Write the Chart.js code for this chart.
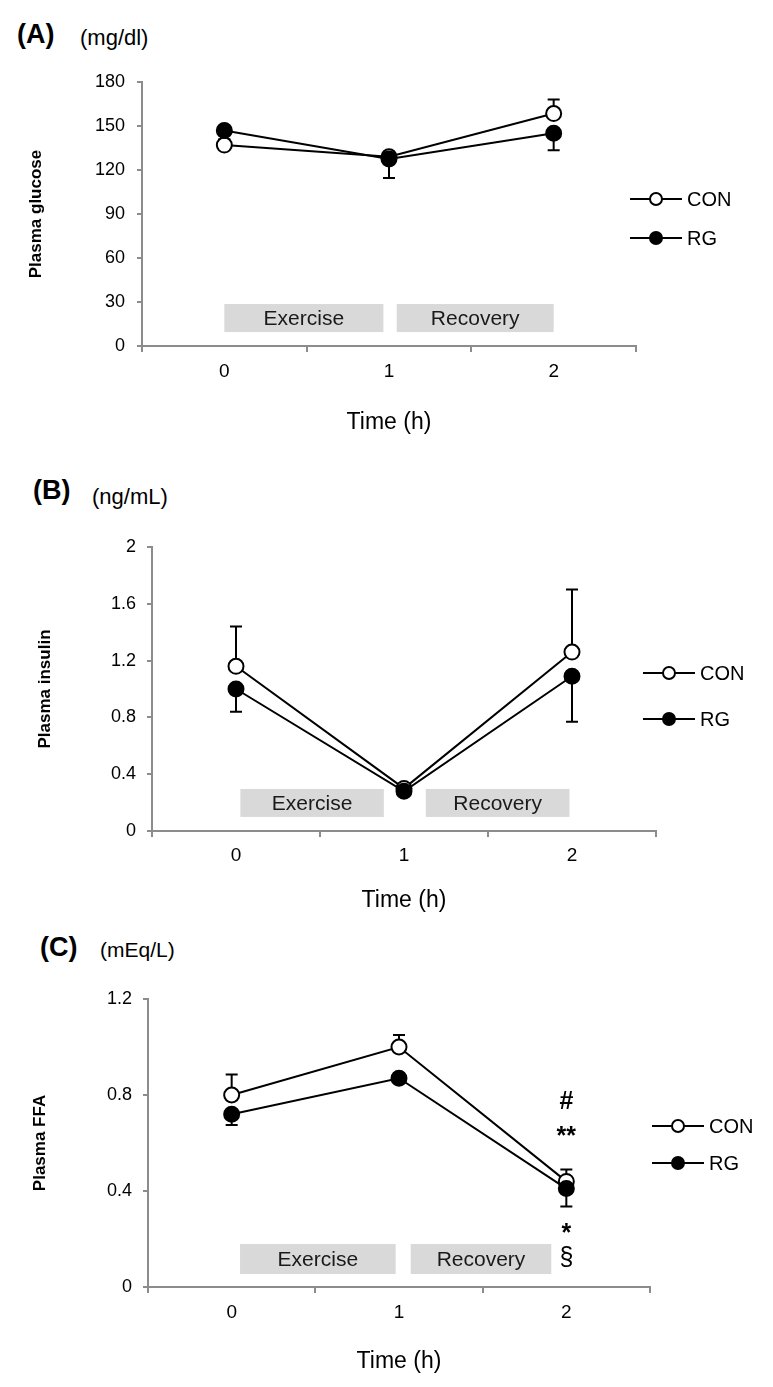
<!DOCTYPE html>
<html>
<head>
<meta charset="utf-8">
<script src="https://cdn.jsdelivr.net/npm/chart.js@4.4.0/dist/chart.umd.min.js"></script>
<style>
  body { margin: 0; background: #fff; width: 773px; height: 1387px; position: relative; overflow: hidden;
         font-family: "Liberation Sans", Arial, sans-serif; color: #000; }
  canvas { position: absolute; left: 0; }
  .tag { position: absolute; font-weight: bold; font-size: 27px; line-height: 1; }
  .unit { position: absolute; font-size: 22px; line-height: 1; }
</style>
</head>
<body>
<div class="tag" style="left:17px;top:21px">(A)</div>
<div class="unit" style="left:80px;top:27px">(mg/dl)</div>
<div class="tag" style="left:33px;top:477px">(B)</div>
<div class="unit" style="left:92px;top:486px">(ng/mL)</div>
<div class="tag" style="left:40px;top:934px">(C)</div>
<div class="unit" style="left:100px;top:939px;font-size:21px">(mEq/L)</div>

<canvas id="chartA" width="773" height="460" style="top:0px"></canvas>
<canvas id="chartB" width="773" height="460" style="top:460px"></canvas>
<canvas id="chartC" width="773" height="467" style="top:920px"></canvas>

<script>
// data
const timeLabels = ['0', '1', '2'];
const phaseLabels = ['Exercise', 'Recovery'];

const glucoseCon = [137, 129, 158.5];
const glucoseConErr = [4, 3.5, 9.5];
const glucoseRg = [147, 127.5, 145];
const glucoseRgErr = [3, 13, 11.5];
const glucoseTicks = [0, 30, 60, 90, 120, 150, 180];

const insulinCon = [1.16, 0.30, 1.26];
const insulinConErr = [0.28, 0.02, 0.44];
const insulinRg = [1.00, 0.28, 1.09];
const insulinRgErr = [0.16, 0.02, 0.32];
const insulinTicks = [0, 0.4, 0.8, 1.2, 1.6, 2];

const ffaCon = [0.80, 1.00, 0.44];
const ffaConErr = [0.085, 0.05, 0.05];
const ffaRg = [0.72, 0.87, 0.41];
const ffaRgErr = [0.045, 0.01, 0.075];
const ffaTicks = [0, 0.4, 0.8, 1.2];
const ffaMarks = ['#', '**', '*', '§'];
const ffaMarkLevels = [0.78, 0.66, 0.255, 0.12];

const FONT = '"Liberation Sans", Arial, sans-serif';
const AXIS_GRAY = '#8c8c8c';

// boxes, error bars, legend and significance marks
function makeDecor(p) {
    return {
        id: 'decor',
        beforeDatasetsDraw(chart) {
            const ctx = chart.ctx;
            const x = chart.scales.x, y = chart.scales.y;
            ctx.save();
            p.boxes.forEach(function(b, i) {
                const x0 = x.getPixelForValue(b[0]), x1 = x.getPixelForValue(b[1]);
                const y0 = y.getPixelForValue(p.boxRange[1]), y1 = y.getPixelForValue(p.boxRange[0]);
                ctx.fillStyle = '#d9d9d9';
                ctx.fillRect(x0, y0, x1 - x0, y1 - y0);
                ctx.fillStyle = '#1a1a1a';
                ctx.font = '21px ' + FONT;
                ctx.textAlign = 'center';
                ctx.textBaseline = 'middle';
                ctx.fillText(phaseLabels[i], (x0 + x1) / 2, (y0 + y1) / 2 + 1);
            });
            // error bars (CON upward, RG downward)
            ctx.strokeStyle = '#000';
            ctx.lineWidth = 2;
            chart.data.datasets.forEach(function(ds, di) {
                const meta = chart.getDatasetMeta(di);
                meta.data.forEach(function(pt, i) {
                    const yEnd = y.getPixelForValue(ds.data[i] + ds.errDir * ds.err[i]);
                    ctx.beginPath();
                    ctx.moveTo(pt.x, pt.y);
                    ctx.lineTo(pt.x, yEnd);
                    ctx.moveTo(pt.x - 6, yEnd);
                    ctx.lineTo(pt.x + 6, yEnd);
                    ctx.stroke();
                });
            });
            ctx.restore();
        },
        afterDatasetsDraw(chart) {
            const ctx = chart.ctx;
            const x = chart.scales.x, y = chart.scales.y;
            ctx.save();
            // legend
            chart.data.datasets.forEach(function(ds, i) {
                const lx = p.legend.x, ly = p.legend.y + i * p.legend.dy;
                ctx.strokeStyle = '#000';
                ctx.lineWidth = 2;
                ctx.beginPath();
                ctx.moveTo(lx, ly);
                ctx.lineTo(lx + 52, ly);
                ctx.stroke();
                ctx.beginPath();
                ctx.arc(lx + 26, ly, 6, 0, Math.PI * 2);
                ctx.fillStyle = ds.pointBackgroundColor;
                ctx.fill();
                ctx.stroke();
                ctx.fillStyle = '#000';
                ctx.font = '20px ' + FONT;
                ctx.textAlign = 'left';
                ctx.textBaseline = 'middle';
                ctx.fillText(ds.label, lx + 57, ly + 1);
            });
            // significance marks
            if (p.marks) {
                const mx = x.getPixelForValue(2);
                p.marks.forEach(function(m, i) {
                    const size = 25;
                    ctx.font = (m === '§' ? '' : 'bold ') + size + 'px ' + FONT;
                    ctx.textAlign = 'center';
                    ctx.textBaseline = 'alphabetic';
                    const shift = m.charAt(0) === '*' ? 0.62 : (m === '§' ? 0.28 : 0.36);
                    ctx.fillStyle = '#000';
                    ctx.fillText(m, mx, y.getPixelForValue(p.markLevels[i]) + size * shift);
                });
            }
            ctx.restore();
        }
    };
}

function makePanel(id, p) {
    new Chart(document.getElementById(id), {
        type: 'line',
        data: {
            labels: timeLabels,
            datasets: [
                {
                    label: 'CON', data: p.con, err: p.conErr, errDir: 1, order: 2,
                    borderColor: '#000', borderWidth: 2, tension: 0,
                    pointRadius: 7.5, pointBorderWidth: 2,
                    pointBackgroundColor: '#fff', pointBorderColor: '#000'
                },
                {
                    label: 'RG', data: p.rg, err: p.rgErr, errDir: -1, order: 1,
                    borderColor: '#000', borderWidth: 2, tension: 0,
                    pointRadius: 7.5, pointBorderWidth: 2,
                    pointBackgroundColor: '#000', pointBorderColor: '#000'
                }
            ]
        },
        options: {
            responsive: false,
            animation: false,
            events: [],
            layout: { padding: { top: p.padTop, right: p.padRight, left: 0, bottom: 0 } },
            plugins: { legend: { display: false }, tooltip: { enabled: false } },
            scales: {
                x: {
                    type: 'category',
                    offset: true,
                    grid: { display: true, drawOnChartArea: false, offset: true, tickLength: 6, color: AXIS_GRAY, lineWidth: 2 },
                    border: { color: AXIS_GRAY, width: 2 },
                    ticks: { color: '#000', font: { family: FONT, size: 19 }, padding: p.xTickPad, maxRotation: 0 },
                    title: {
                        display: true, text: 'Time (h)', color: '#000',
                        font: { family: FONT, size: 23 }, padding: { top: 0, bottom: p.xTitlePad }
                    },
                    afterFit: function(s) { s.height = p.xHeight; }
                },
                y: {
                    min: p.ticks[0],
                    max: p.ticks[p.ticks.length - 1],
                    afterBuildTicks: function(s) { s.ticks = p.ticks.map(function(v) { return { value: v }; }); },
                    grid: { display: true, drawOnChartArea: false, tickLength: 5, color: AXIS_GRAY, lineWidth: 2 },
                    border: { color: AXIS_GRAY, width: 2 },
                    ticks: { color: '#000', font: { family: FONT, size: 18 }, padding: p.yTickPad,
                             callback: function(v) { return String(v); } },
                    title: {
                        display: true, text: p.yTitle, color: '#000',
                        font: { family: FONT, size: 17, weight: 'bold' }, padding: { top: p.yTitlePad, bottom: 0 }
                    },
                    afterFit: function(s) { s.width = p.yWidth; }
                }
            }
        },
        plugins: [makeDecor(p)]
    });
}

makePanel('chartA', {
    con: glucoseCon, conErr: glucoseConErr, rg: glucoseRg, rgErr: glucoseRgErr, ticks: glucoseTicks,
    yTitle: 'Plasma glucose',
    padTop: 82, padRight: 137, yWidth: 142, xHeight: 114,
    xTickPad: 8, xTitlePad: 24, yTickPad: 12, yTitlePad: 26,
    boxes: [[0.0, 0.966], [1.047, 2.0]], boxRange: [9.5, 28.6],
    legend: { x: 630, y: 199, dy: 39 }
});

makePanel('chartB', {
    con: insulinCon, conErr: insulinConErr, rg: insulinRg, rgErr: insulinRgErr, ticks: insulinTicks,
    yTitle: 'Plasma insulin',
    padTop: 87, padRight: 117, yWidth: 152, xHeight: 89,
    xTickPad: 7, xTitlePad: 6, yTickPad: 11, yTitlePad: 35,
    boxes: [[0.026, 0.88], [1.13, 1.985]], boxRange: [0.099, 0.296],
    legend: { x: 643, y: 213, dy: 46 }
});

makePanel('chartC', {
    con: ffaCon, conErr: ffaConErr, rg: ffaRg, rgErr: ffaRgErr, ticks: ffaTicks,
    yTitle: 'Plasma FFA',
    padTop: 79, padRight: 123, yWidth: 148, xHeight: 100,
    xTickPad: 8, xTitlePad: 12, yTickPad: 11, yTitlePad: 30,
    boxes: [[0.05, 0.98], [1.07, 1.91]], boxRange: [0.054, 0.179],
    legend: { x: 652, y: 206, dy: 37 },
    marks: ffaMarks, markLevels: ffaMarkLevels
});
</script>
</body>
</html>
